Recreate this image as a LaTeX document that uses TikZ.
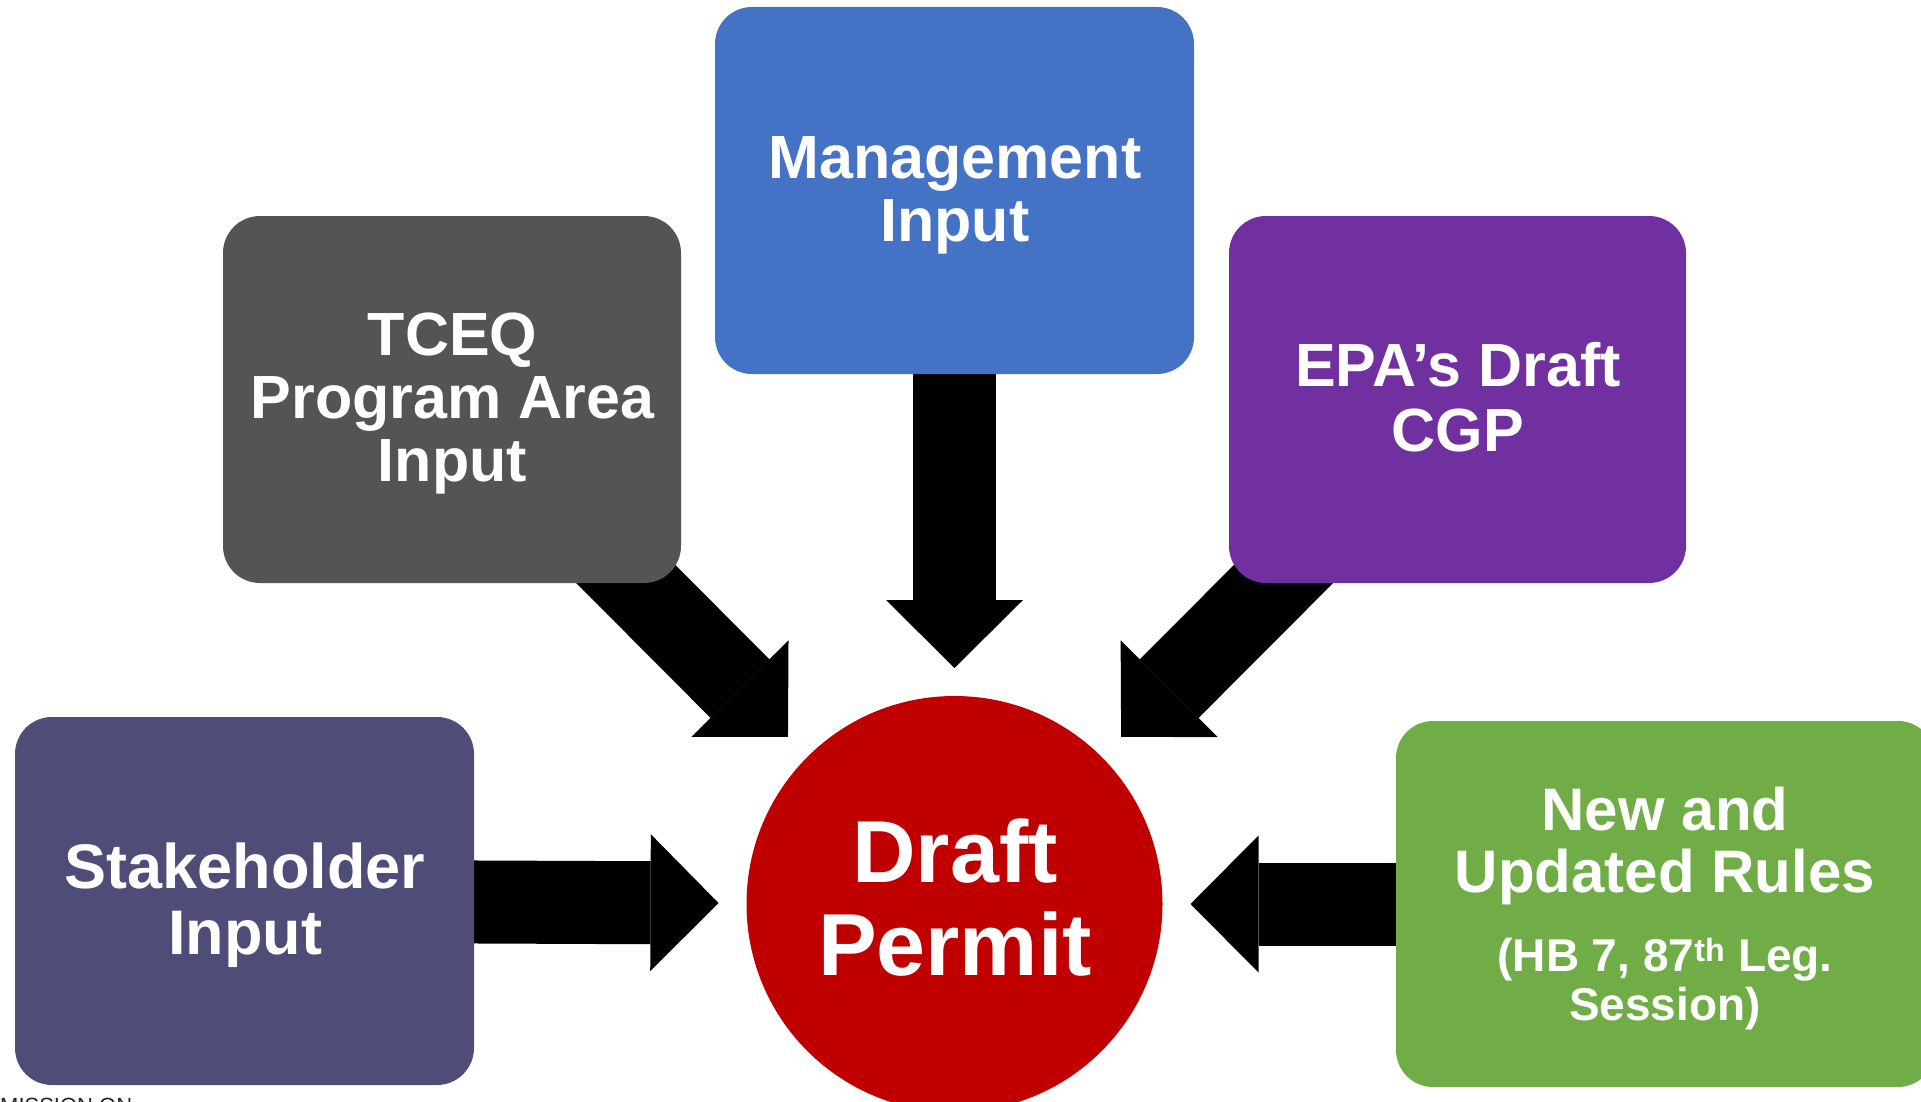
\documentclass[tikz,border=0pt]{standalone}
\usepackage{fontspec}
\setmainfont{Liberation Sans}
\usetikzlibrary{arrows.meta,backgrounds}
\definecolor{cstake}{HTML}{4F4C78}
\definecolor{cgray}{HTML}{545454}
\definecolor{cblue}{HTML}{4472C4}
\definecolor{cpurple}{HTML}{7030A0}
\definecolor{cgreen}{HTML}{70AD47}
\definecolor{cred}{HTML}{C00000}
\begin{document}
\begin{tikzpicture}[x=1pt,y=-1pt,
  box/.style={rectangle, rounded corners=37pt, inner sep=0pt, outer sep=0pt},
  lbl/.style 2 args={text=white, font=\fontsize{#1}{#2}\selectfont\bfseries, align=center, anchor=base, inner sep=0pt},
  bigarrow/.style={line width=83pt, draw=black, -{Triangle[length=68pt,width=137pt,line width=0pt]}, shorten >=28pt}]
\useasboundingbox (0,0) rectangle (1921,1102);
% boxes
\node[box, fill=cstake, minimum width=459pt, minimum height=368pt] (stake) at (244.5,901) {};
\node[box, fill=cgray, minimum width=458pt, minimum height=367pt] (tceq) at (452,399.5) {};
\node[box, fill=cblue, minimum width=479pt, minimum height=367pt] (mgmt) at (954.5,190.5) {};
\node[box, fill=cpurple, minimum width=457pt, minimum height=367pt] (epa) at (1457.5,399.5) {};
\node[box, fill=cgreen, minimum width=539pt, minimum height=366pt] (rules) at (1665.5,904) {};
\node[circle, fill=cred, minimum size=416pt, inner sep=0pt, outer sep=0pt] (permit) at (954.5,904) {};
% labels (anchor = baseline of last line)
\node[lbl={63}{66}] (stakeT) at (245,954) {Stakeholder\\Input};
\node[lbl={61}{63}] (tceqT) at (452.5,481) {TCEQ\\Program Area\\Input};
\node[lbl={61}{63}] (mgmtT) at (955,241) {Management\\Input};
\node[lbl={61}{65}] (epaT) at (1458,451) {EPA’s Draft\\CGP};
\node[lbl={60}{62}] (rulesT) at (1665,892) {New and\\Updated Rules};
\node[lbl={46}{49}] (rulesT2) at (1665,1020) {(HB 7, 87\textsuperscript{th} Leg.\\Session)};
\node[lbl={88}{93}] (permitT) at (955,975) {Draft\\Permit};
\node[anchor=base west, inner sep=0pt, text=black!85, font=\fontsize{22}{26}\selectfont] (foot) at (0,1113) {MISSION ON};
% arrows
\begin{scope}[on background layer]
\fill[white] (0,0) rectangle (1921,1102);
\draw[bigarrow] (stake.center) -- (permit);
\draw[bigarrow] (tceq.center) -- (permit);
\draw[bigarrow] (mgmt.center) -- (permit);
\draw[bigarrow] (epa.center) -- (permit);
\draw[bigarrow] (rules.center) -- (permit);
\end{scope}
\end{tikzpicture}
\end{document}
